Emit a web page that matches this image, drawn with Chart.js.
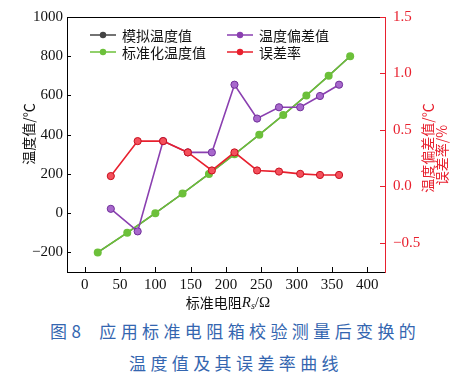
<!DOCTYPE html>
<html><head><meta charset="utf-8">
<script src="https://cdn.jsdelivr.net/npm/chart.js@4.4.1/dist/chart.umd.min.js"></script>
<style>
html,body{margin:0;padding:0;background:#fff;width:460px;height:376px;overflow:hidden}
#wrap{position:absolute;left:0;top:0;width:460px;height:312px}
.cap{position:absolute;color:#3466b0;font-family:"Noto Sans CJK SC";font-size:17px;line-height:24px;letter-spacing:4.4px;white-space:nowrap}
</style></head><body>
<div id="wrap"><canvas id="c" width="460" height="312"></canvas></div>
<div class="cap" style="top:319px;left:50px">图8<span style="display:inline-block;width:14px"></span>应用标准电阻箱校验测量后变换的</div>
<div class="cap" style="top:351px;left:129px">温度值及其误差率曲线</div>
<script>
// ---- data ----
const stdResistance = [18.52, 60.26, 100.00, 138.51, 175.86, 212.05, 247.09, 280.98, 313.71, 345.28, 375.70];
const stdTemp       = [-200, -100, 0, 100, 200, 300, 400, 500, 600, 700, 800];
const simTemp       = [-200, -100, 0, 100, 200, 300, 400, 500, 600, 700, 800];
const testResistance = [37, 75, 111, 146, 180, 212, 244, 275, 305, 333, 360];
const tempDeviation  = [-0.2, -0.4, 0.4, 0.3, 0.3, 0.9, 0.6, 0.7, 0.7, 0.8, 0.9];
const errorRate      = [0.09, 0.4, 0.4, 0.3, 0.14, 0.3, 0.14, 0.13, 0.11, 0.10, 0.10];
const xTicks  = [0, 50, 100, 150, 200, 250, 300, 350, 400];
const yTicks  = [-200, 0, 200, 400, 600, 800, 1000];
const y1Ticks = [-0.5, 0, 0.5, 1.0, 1.5];
const legendLabels = ['模拟温度值', '温度偏差值', '标准化温度值', '误差率'];

const RED = '#e8202e', PURPLE = '#8a3fb0', GREEN = '#6cc03a', BLACK = '#444444';
const pts = (xs, ys) => xs.map((x, i) => ({x, y: ys[i]}));
const minus = s => String(s).replace('-', '\u2212');
const serif = '"Liberation Serif", "DejaVu Serif", serif';
const cjk = '"Noto Sans CJK SC", sans-serif';

const decor = {
  id: 'decor',
  afterDraw(chart) {
    const {ctx, chartArea: a, scales} = chart;
    ctx.save();
    ctx.lineWidth = 1;
    // top border
    ctx.strokeStyle = '#000';
    ctx.beginPath(); ctx.moveTo(a.left, a.top + 0.5); ctx.lineTo(a.right, a.top + 0.5); ctx.stroke();
    // inward ticks
    ctx.beginPath();
    xTicks.forEach(v => { const p = Math.round(scales.x.getPixelForValue(v)) + 0.5; ctx.moveTo(p, a.bottom); ctx.lineTo(p, a.bottom - 5); });
    yTicks.forEach(v => { const p = Math.round(scales.y.getPixelForValue(v)) + 0.5; ctx.moveTo(a.left, p); ctx.lineTo(a.left + 4, p); });
    ctx.stroke();
    ctx.strokeStyle = RED;
    ctx.beginPath();
    y1Ticks.forEach(v => { const p = Math.round(scales.y1.getPixelForValue(v)) + 0.5; ctx.moveTo(a.right, p); ctx.lineTo(a.right - 5, p); });
    ctx.stroke();

    // legend
    const items = [
      {label: legendLabels[0], c: BLACK, x: 90, y: 35},
      {label: legendLabels[1], c: PURPLE, x: 227, y: 35},
      {label: legendLabels[2], c: GREEN, x: 90, y: 52},
      {label: legendLabels[3], c: RED, x: 227, y: 52},
    ];
    ctx.font = '14px ' + cjk;
    ctx.textBaseline = 'middle';
    ctx.textAlign = 'left';
    items.forEach(it => {
      ctx.strokeStyle = it.c; ctx.lineWidth = 1.5;
      ctx.beginPath(); ctx.moveTo(it.x, it.y); ctx.lineTo(it.x + 26, it.y); ctx.stroke();
      ctx.fillStyle = it.c;
      ctx.beginPath(); ctx.arc(it.x + 13, it.y, 3.2, 0, Math.PI * 2); ctx.fill();
      ctx.fillStyle = '#111';
      ctx.fillText(it.label, it.x + 32, it.y + 1);
    });

    // left axis title
    ctx.fillStyle = '#111';
    ctx.font = '14px ' + cjk;
    ctx.textAlign = 'center';
    ctx.save(); ctx.translate(29, 134); ctx.rotate(-Math.PI / 2); ctx.fillText('温度值/℃', 0, 0); ctx.restore();
    // right axis titles
    ctx.fillStyle = RED;
    ctx.save(); ctx.translate(428, 148); ctx.rotate(-Math.PI / 2); ctx.fillText('温度偏差值/℃', 0, 0); ctx.restore();
    ctx.save(); ctx.translate(442, 155); ctx.rotate(-Math.PI / 2); ctx.fillText('误差率/%', 0, 0); ctx.restore();

    // x axis title: 标准电阻R_s/Ω
    ctx.fillStyle = '#111';
    ctx.textAlign = 'left';
    const y = 303;
    const parts = [
      {t: '标准电阻', f: '14px ' + cjk, dy: 0},
      {t: 'R', f: 'italic 15px ' + serif, dy: 0},
      {t: 's', f: 'italic 10px ' + serif, dy: 3},
      {t: '/Ω', f: '15px ' + serif, dy: 0},
    ];
    let w = 0;
    parts.forEach(p => { ctx.font = p.f; p.w = ctx.measureText(p.t).width; w += p.w; });
    let x = 228 - w / 2;
    parts.forEach(p => { ctx.font = p.f; ctx.fillText(p.t, x, y + p.dy); x += p.w; });
    ctx.restore();
  }
};

new Chart(document.getElementById('c'), {
  type: 'line',
  data: {
    datasets: [
      {label: legendLabels[3], data: pts(testResistance, errorRate), yAxisID: 'y1', order: 0,
       borderColor: RED, backgroundColor: '#f05060', pointBorderColor: '#c8101e', pointBackgroundColor: '#f4505c',
       borderWidth: 1.6, pointRadius: 3.6, pointBorderWidth: 1},
      {label: legendLabels[1], data: pts(testResistance, tempDeviation), yAxisID: 'y1', order: 1,
       borderColor: PURPLE, backgroundColor: '#a060c8', pointBorderColor: '#70309a', pointBackgroundColor: '#a868cc',
       borderWidth: 1.6, pointRadius: 3.6, pointBorderWidth: 1},
      {label: legendLabels[2], data: pts(stdResistance, stdTemp), yAxisID: 'y', order: 2,
       borderColor: GREEN, backgroundColor: GREEN, pointBackgroundColor: GREEN, pointBorderColor: GREEN,
       borderWidth: 1.6, pointRadius: 4, pointBorderWidth: 0},
      {label: legendLabels[0], data: pts(stdResistance, simTemp), yAxisID: 'y', order: 3,
       borderColor: BLACK, backgroundColor: BLACK, pointBackgroundColor: BLACK,
       borderWidth: 1.4, pointRadius: 3, pointBorderWidth: 0},
    ]
  },
  options: {
    responsive: false,
    animation: false,
    layout: {padding: {top: 16, left: 0, right: 0, bottom: 0}},
    plugins: {legend: {display: false}, tooltip: {enabled: false}},
    scales: {
      x: {
        type: 'linear', min: -25, max: 425,
        afterBuildTicks: s => { s.ticks = xTicks.map(v => ({value: v})); },
        afterFit: s => { s.height = 40; },
        grid: {display: false, drawTicks: false},
        border: {display: true, color: '#000', width: 1},
        ticks: {padding: 4, color: '#111', font: {family: serif, size: 15}, maxRotation: 0, callback: v => minus(v)}
      },
      y: {
        type: 'linear', position: 'left', min: -300, max: 1000,
        afterBuildTicks: s => { s.ticks = yTicks.map(v => ({value: v})); },
        afterFit: s => { s.width = 67; },
        grid: {display: false, drawTicks: false},
        border: {display: true, color: '#000', width: 1},
        ticks: {padding: 4, color: '#111', font: {family: serif, size: 15}, callback: v => minus(v)}
      },
      y1: {
        type: 'linear', position: 'right', min: -0.76, max: 1.5,
        afterBuildTicks: s => { s.ticks = y1Ticks.map(v => ({value: v})); },
        afterFit: s => { s.width = 75; },
        grid: {display: false, drawTicks: false},
        border: {display: true, color: RED, width: 1},
        ticks: {padding: 8, color: RED, font: {family: serif, size: 15}, callback: v => minus(Number(v).toFixed(1))}
      }
    }
  },
  plugins: [decor]
});
</script>
</body></html>
